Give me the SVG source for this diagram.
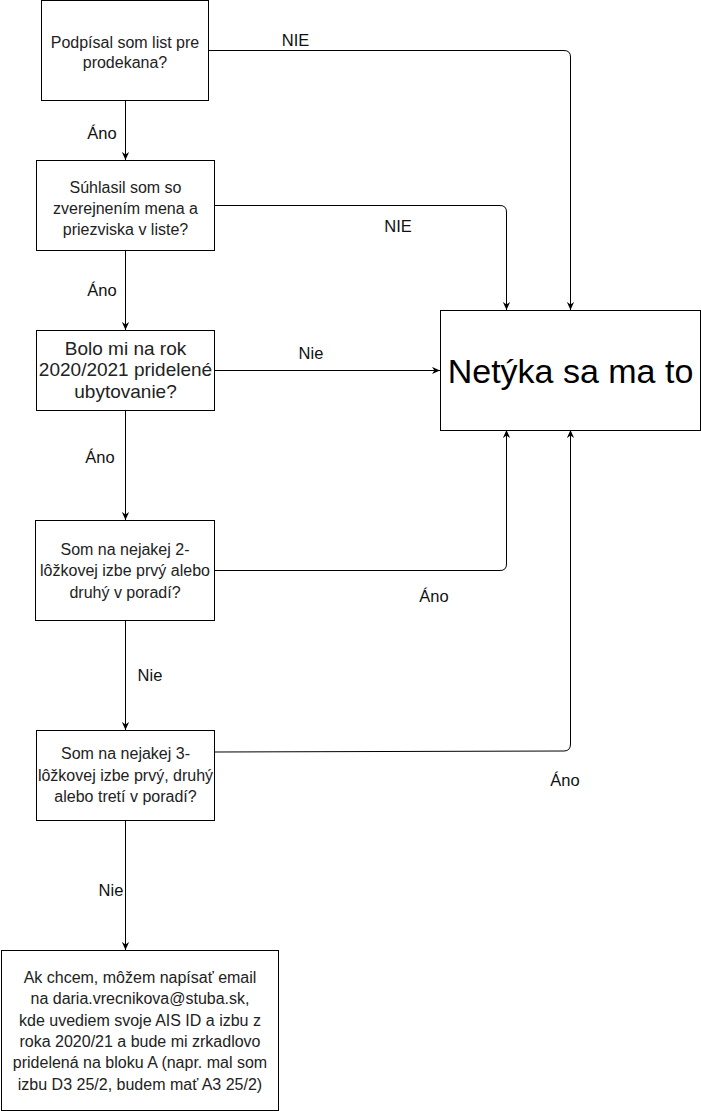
<svg xmlns="http://www.w3.org/2000/svg" width="701" height="1111" viewBox="0 0 701 1111">
<defs>
<style>
.box{fill:#fff;stroke:#000;stroke-width:1}
.t{font-family:"Liberation Sans",Arial,Helvetica,sans-serif;font-size:16px;fill:#222;text-anchor:middle}
.t18{font-size:19px}
.big{font-family:"Liberation Sans",Arial,Helvetica,sans-serif;font-size:34px;fill:#000;text-anchor:middle}
.lbl{font-family:"Liberation Sans",Arial,Helvetica,sans-serif;font-size:16.5px;fill:#111;text-anchor:middle}
.e{fill:none;stroke:#000;stroke-width:1;marker-end:url(#arr)}
</style>
<marker id="arr" viewBox="0 0 10 10" refX="10" refY="5" markerWidth="8" markerHeight="8" markerUnits="userSpaceOnUse" orient="auto">
<path d="M0,0.5 L10,5 L0,9.5 L3,5 Z" fill="#000"/>
</marker>
</defs>
<rect width="701" height="1111" fill="#fff"/>
<g id="connectors">
<path class="e" d="M208.5,50.5 H564 Q570.5,50.5 570.5,57 V310"/>
<path class="e" d="M214.5,205.5 H500 Q506.5,205.5 506.5,212 V310"/>
<path class="e" d="M214.5,370.5 H440"/>
<path class="e" d="M214.5,570.5 H500 Q506.5,570.5 506.5,564 V430"/>
<path class="e" d="M214.5,752 L564,751 Q570.5,751 570.5,744 V430"/>
<path class="e" d="M125.5,100.5 V160"/>
<path class="e" d="M125.5,250.5 V330"/>
<path class="e" d="M125.5,410.5 V520"/>
<path class="e" d="M125.5,620.5 V730"/>
<path class="e" d="M125.5,820.5 V950"/>
<text class="lbl" x="295.5" y="46">NIE</text>
<text class="lbl" x="398" y="232">NIE</text>
<text class="lbl" x="311" y="359">Nie</text>
<text class="lbl" x="434" y="602">Áno</text>
<text class="lbl" x="565" y="786">Áno</text>
<text class="lbl" x="102" y="139">Áno</text>
<text class="lbl" x="102" y="296">Áno</text>
<text class="lbl" x="100" y="463">Áno</text>
<text class="lbl" x="150" y="681">Nie</text>
<text class="lbl" x="111" y="896">Nie</text>
</g>
<g id="n1">
<rect class="box" x="41.5" y="0.5" width="167" height="100"/>
<text class="t" x="125" y="47.5">Podpísal som list pre</text>
<text class="t" x="125" y="68">prodekana?</text>
</g>
<g id="n2">
<rect class="box" x="36.5" y="160.5" width="178" height="90"/>
<text class="t" x="125.5" y="192.5">Súhlasil som so</text>
<text class="t" x="125.5" y="213.5">zverejnením mena a</text>
<text class="t" x="125.5" y="234.5">priezviska v liste?</text>
</g>
<g id="n3">
<rect class="box" x="36.5" y="330.5" width="178" height="80"/>
<text class="t t18" x="125.5" y="354.5">Bolo mi na rok</text>
<text class="t t18" x="125.5" y="376">2020/2021 pridelené</text>
<text class="t t18" x="125.5" y="397.5">ubytovanie?</text>
</g>
<g id="n4">
<rect class="box" x="440.5" y="310.5" width="260" height="120"/>
<text class="big" x="570.5" y="383">Netýka sa ma to</text>
</g>
<g id="n5">
<rect class="box" x="35.5" y="520.5" width="179" height="100"/>
<text class="t" x="125" y="554.5">Som na nejakej 2-</text>
<text class="t" x="125" y="576">lôžkovej izbe prvý alebo</text>
<text class="t" x="125" y="597.5">druhý v poradí?</text>
</g>
<g id="n6">
<rect class="box" x="36.5" y="730.5" width="178" height="90"/>
<text class="t" x="125.5" y="759">Som na nejakej 3-</text>
<text class="t" x="125.5" y="780.5">lôžkovej izbe prvý, druhý</text>
<text class="t" x="125.5" y="802">alebo tretí v poradí?</text>
</g>
<g id="n7">
<rect class="box" x="1.5" y="950.5" width="277" height="160"/>
<text class="t" x="140" y="983">Ak chcem, môžem napísať email</text>
<text class="t" x="140" y="1004.3">na daria.vrecnikova@stuba.sk,</text>
<text class="t" x="140" y="1025.6">kde uvediem svoje AIS ID a izbu z</text>
<text class="t" x="140" y="1046.9">roka 2020/21 a bude mi zrkadlovo</text>
<text class="t" x="140" y="1068.2">pridelená na bloku A (napr. mal som</text>
<text class="t" x="140" y="1089.5">izbu D3 25/2, budem mať A3 25/2)</text>
</g>
</svg>
